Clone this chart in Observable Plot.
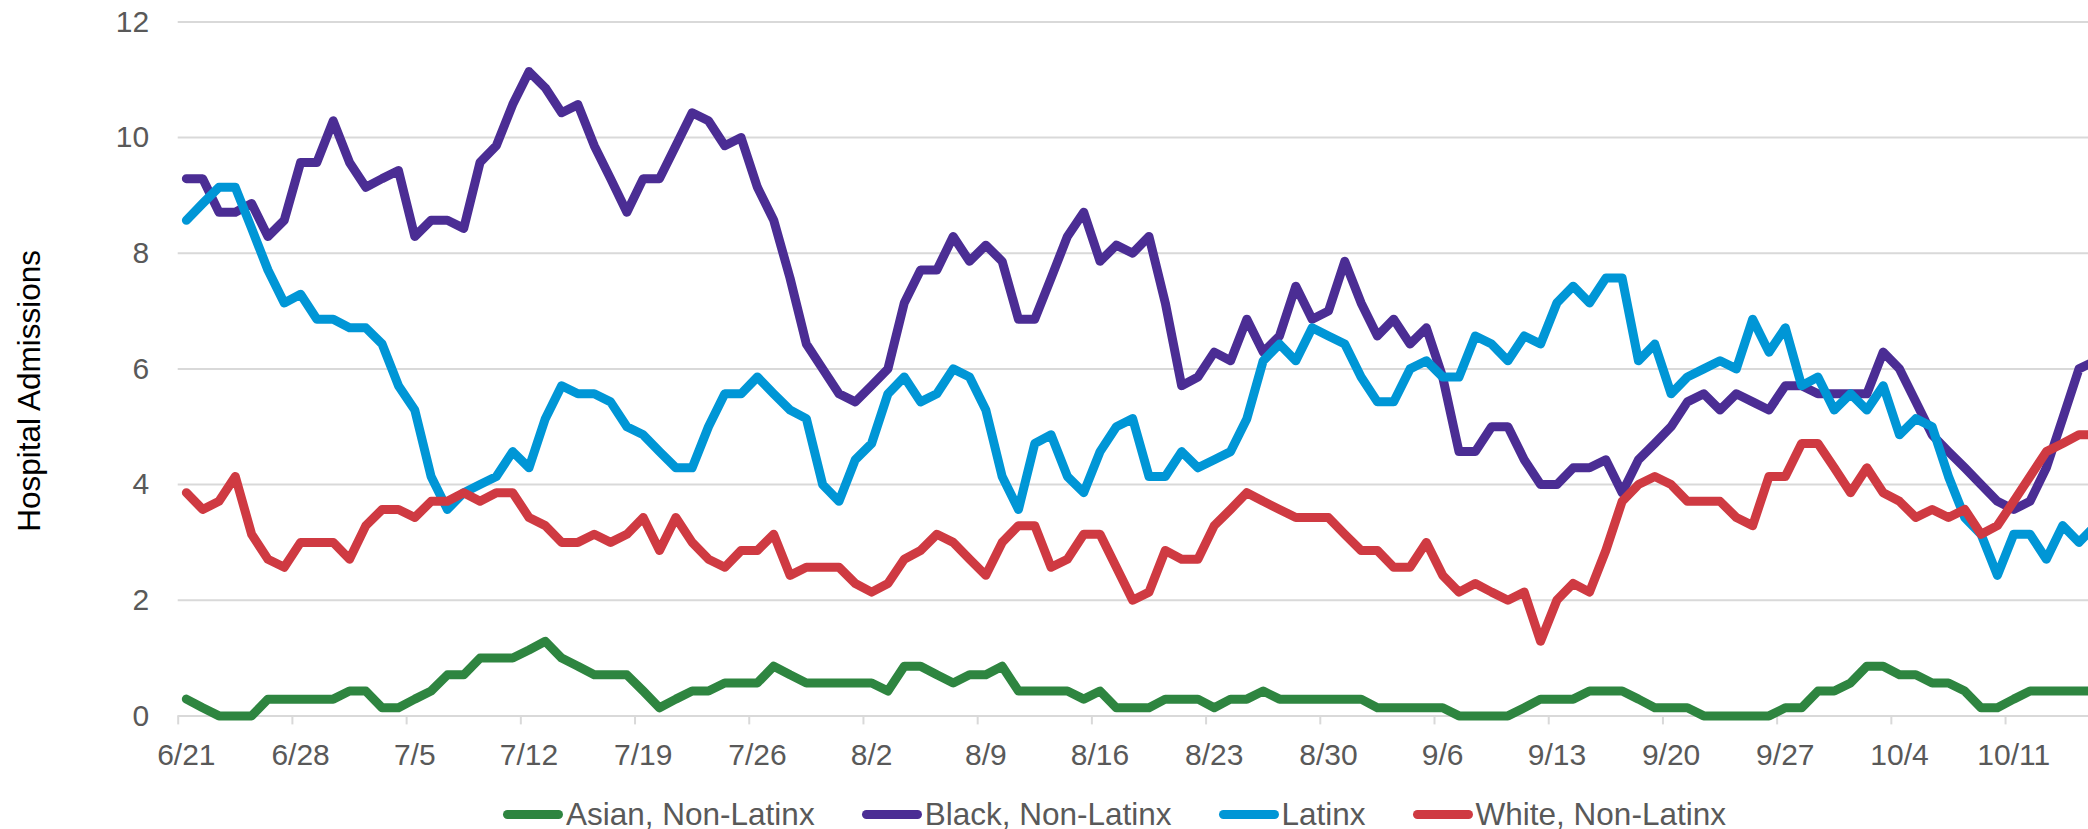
<!DOCTYPE html>
<html>
<head>
<meta charset="utf-8">
<script src="https://cdn.jsdelivr.net/npm/d3@7"></script>
<script src="https://cdn.jsdelivr.net/npm/@observablehq/plot@0.6"></script>
<style>
  html, body { margin: 0; padding: 0; background: #fff; overflow: hidden; }
  #chart svg { display: block; overflow: hidden; }
  #legend {
    display: flex; align-items: center; height: 30px; padding-top: 14px;
    padding-left: 503px; font-family: "Liberation Sans", Arial, sans-serif;
    font-size: 31.5px; color: #595959; white-space: nowrap;
  }
  .item { display: flex; align-items: center; margin-right: 47px; }
  .sw { width: 60px; height: 9px; border-radius: 4.5px; margin-right: 3px; }
</style>
</head>
<body>
<div id="chart"></div>
<div id="legend"></div>
<script>
// ---- Data (7-day averages of daily hospital admissions), daily from 6/21/2020 ----
const startYear = 2020, startMonth = 6, startDay = 21;

const seriesNames = ["Asian, Non-Latinx", "Black, Non-Latinx", "Latinx", "White, Non-Latinx"];
const seriesColors = ["#2e8540", "#4b2d94", "#0096d6", "#cf3a42"];

const asian = [
  0.29, 0.14, 0, 0, 0, 0.29, 0.29,
  0.29, 0.29, 0.29, 0.43, 0.43, 0.14, 0.14,
  0.29, 0.43, 0.71, 0.71, 1.0, 1.0, 1.0,
  1.14, 1.29, 1.0, 0.86, 0.71, 0.71, 0.71,
  0.43, 0.14, 0.29, 0.43, 0.43, 0.57, 0.57,
  0.57, 0.86, 0.71, 0.57, 0.57, 0.57, 0.57,
  0.57, 0.43, 0.86, 0.86, 0.71, 0.57, 0.71,
  0.71, 0.86, 0.43, 0.43, 0.43, 0.43, 0.29,
  0.43, 0.14, 0.14, 0.14, 0.29, 0.29, 0.29,
  0.14, 0.29, 0.29, 0.43, 0.29, 0.29, 0.29,
  0.29, 0.29, 0.29, 0.14, 0.14, 0.14, 0.14,
  0.14, 0, 0, 0, 0, 0.14, 0.29,
  0.29, 0.29, 0.43, 0.43, 0.43, 0.29, 0.14,
  0.14, 0.14, 0, 0, 0, 0, 0,
  0.14, 0.14, 0.43, 0.43, 0.57, 0.86, 0.86,
  0.71, 0.71, 0.57, 0.57, 0.43, 0.14, 0.14,
  0.29, 0.43, 0.43, 0.43, 0.43, 0.43
];

const black = [
  9.29, 9.29, 8.71, 8.71, 8.86, 8.29, 8.57,
  9.57, 9.57, 10.29, 9.57, 9.14, 9.29, 9.43,
  8.29, 8.57, 8.57, 8.43, 9.57, 9.86, 10.57,
  11.14, 10.86, 10.43, 10.57, 9.86, 9.29, 8.71,
  9.29, 9.29, 9.86, 10.43, 10.29, 9.86, 10.0,
  9.14, 8.57, 7.57, 6.43, 6.0, 5.57, 5.43,
  5.71, 6.0, 7.14, 7.71, 7.71, 8.29, 7.86,
  8.14, 7.86, 6.86, 6.86, 7.57, 8.29, 8.71,
  7.86, 8.14, 8.0, 8.29, 7.14, 5.71, 5.86,
  6.29, 6.14, 6.86, 6.29, 6.57, 7.43, 6.86,
  7.0, 7.86, 7.14, 6.57, 6.86, 6.43, 6.71,
  5.86, 4.57, 4.57, 5.0, 5.0, 4.43, 4.0,
  4.0, 4.29, 4.29, 4.43, 3.86, 4.43, 4.71,
  5.0, 5.43, 5.57, 5.29, 5.57, 5.43, 5.29,
  5.71, 5.71, 5.57, 5.57, 5.57, 5.57, 6.29,
  6.0, 5.43, 4.86, 4.57, 4.29, 4.0, 3.71,
  3.57, 3.71, 4.29, 5.14, 6.0, 6.14
];

const latinx = [
  8.57, 8.86, 9.14, 9.14, 8.43, 7.71, 7.14,
  7.29, 6.86, 6.86, 6.71, 6.71, 6.43, 5.71,
  5.29, 4.14, 3.57, 3.86, 4.0, 4.14, 4.57,
  4.29, 5.14, 5.71, 5.57, 5.57, 5.43, 5.0,
  4.86, 4.57, 4.29, 4.29, 5.0, 5.57, 5.57,
  5.86, 5.57, 5.29, 5.14, 4.0, 3.71, 4.43,
  4.71, 5.57, 5.86, 5.43, 5.57, 6.0, 5.86,
  5.29, 4.14, 3.57, 4.71, 4.86, 4.14, 3.86,
  4.57, 5.0, 5.14, 4.14, 4.14, 4.57, 4.29,
  4.43, 4.57, 5.14, 6.14, 6.43, 6.14, 6.71,
  6.57, 6.43, 5.86, 5.43, 5.43, 6.0, 6.14,
  5.86, 5.86, 6.57, 6.43, 6.14, 6.57, 6.43,
  7.14, 7.43, 7.14, 7.57, 7.57, 6.14, 6.43,
  5.57, 5.86, 6.0, 6.14, 6.0, 6.86, 6.29,
  6.71, 5.71, 5.86, 5.29, 5.57, 5.29, 5.71,
  4.86, 5.14, 5.0, 4.14, 3.43, 3.14, 2.43,
  3.14, 3.14, 2.71, 3.29, 3.0, 3.29
];

const white = [
  3.86, 3.57, 3.71, 4.14, 3.14, 2.71, 2.57,
  3.0, 3.0, 3.0, 2.71, 3.29, 3.57, 3.57,
  3.43, 3.71, 3.71, 3.86, 3.71, 3.86, 3.86,
  3.43, 3.29, 3.0, 3.0, 3.14, 3.0, 3.14,
  3.43, 2.86, 3.43, 3.0, 2.71, 2.57, 2.86,
  2.86, 3.14, 2.43, 2.57, 2.57, 2.57, 2.29,
  2.14, 2.29, 2.71, 2.86, 3.14, 3.0, 2.71,
  2.43, 3.0, 3.29, 3.29, 2.57, 2.71, 3.14,
  3.14, 2.57, 2.0, 2.14, 2.86, 2.71, 2.71,
  3.29, 3.57, 3.86, 3.71, 3.57, 3.43, 3.43,
  3.43, 3.14, 2.86, 2.86, 2.57, 2.57, 3.0,
  2.43, 2.14, 2.29, 2.14, 2.0, 2.14, 1.29,
  2.0, 2.29, 2.14, 2.86, 3.71, 4.0, 4.14,
  4.0, 3.71, 3.71, 3.71, 3.43, 3.29, 4.14,
  4.14, 4.71, 4.71, 4.29, 3.86, 4.29, 3.86,
  3.71, 3.43, 3.57, 3.43, 3.57, 3.14, 3.29,
  3.71, 4.14, 4.57, 4.71, 4.86, 4.86
];

const xTickLabels = ["6/21", "6/28", "7/5", "7/12", "7/19", "7/26", "8/2", "8/9", "8/16",
                     "8/23", "8/30", "9/6", "9/13", "9/20", "9/27", "10/4", "10/11"];
const yTicks = [0, 2, 4, 6, 8, 10, 12];
const yTickLabels = ["0", "2", "4", "6", "8", "10", "12"];
const yLabel = "Hospital Admissions";

// ---- Build table ----
const seriesValues = [asian, black, latinx, white];
const rows = [];
seriesValues.forEach((vals, s) => {
  vals.forEach((v, i) => {
    rows.push({series: seriesNames[s], date: new Date(startYear, startMonth - 1, startDay + i), value: v});
  });
});

const tickDates = xTickLabels.map(l => {
  const [m, d] = l.split("/").map(Number);
  return new Date(startYear, m - 1, d);
});
const labelByTime = new Map(tickDates.map((d, i) => [+d, xTickLabels[i]]));
const yLabelByValue = new Map(yTicks.map((v, i) => [v, yTickLabels[i]]));
// Excel-style: tick marks sit on category boundaries (half a day before the date)
const tickBoundaries = tickDates.map(d => new Date(+d - 12 * 3600 * 1000));

const xStart = new Date(startYear, startMonth - 1, startDay - 1, 12);
const xEnd = new Date(2020, 9, 15, 14);

const font = '"Liberation Sans", Arial, sans-serif';

const chart = Plot.plot({
  width: 2088,
  height: 785,
  marginLeft: 177.7,
  marginRight: 0,
  marginTop: 21.4,
  marginBottom: 69.6,
  style: {fontFamily: font, background: "white"},
  x: {type: "time", domain: [xStart, xEnd]},
  y: {domain: [0, 12]},
  color: {domain: seriesNames, range: seriesColors},
  marks: [
    Plot.gridY(yTicks, {stroke: "#d9d9d9", strokeOpacity: 1, strokeWidth: 2}),
    Plot.axisY(yTicks, {tickSize: 0, tickPadding: 29, fontSize: 30, color: "#595959",
      tickFormat: v => yLabelByValue.get(v), label: null}),
    Plot.axisX(tickBoundaries, {tickSize: 9, stroke: "#d9d9d9", strokeOpacity: 1, strokeWidth: 2, tickFormat: () => "", label: null}),
    Plot.axisX(tickDates, {tickSize: 0, tickPadding: 28, fontSize: 30, color: "#595959", tickFormat: d => labelByTime.get(+d), label: null}),
    Plot.lineY(rows, {
      x: "date", y: "value", z: "series", stroke: "series",
      strokeWidth: 9, strokeLinejoin: "round", strokeLinecap: "round"
    }),
    Plot.text([yLabel], {
      text: d => d, frameAnchor: "left", textAnchor: "middle", dx: -148, dy: 22, rotate: -90,
      fontSize: 31.5, fill: "#000"
    })
  ]
});
document.getElementById("chart").appendChild(chart);

// ---- Legend (HTML, below the SVG) ----
const legend = document.getElementById("legend");
seriesNames.forEach((name, i) => {
  const item = document.createElement("div");
  item.className = "item";
  const sw = document.createElement("div");
  sw.className = "sw";
  sw.style.background = seriesColors[i];
  const label = document.createElement("span");
  label.textContent = name;
  item.appendChild(sw);
  item.appendChild(label);
  legend.appendChild(item);
});
</script>
</body>
</html>
